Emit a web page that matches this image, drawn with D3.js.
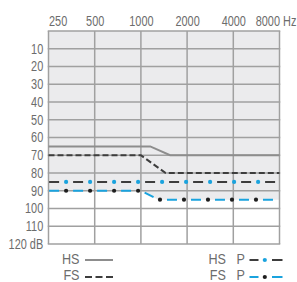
<!DOCTYPE html>
<html>
<head>
<meta charset="utf-8">
<script src="https://cdn.jsdelivr.net/npm/d3@7"></script>
<style>
  html, body { margin: 0; padding: 0; background: #fff; }
  svg { display: block; }
  text { font-family: "Liberation Sans", Arial, sans-serif; fill: #6c6c6c; font-size: 14px; }
</style>
</head>
<body>
<svg id="chart"></svg>
<script>
// Frequency ticks (Hz) and level ticks (dB)
const freqTicks = [250, 500, 1000, 2000, 4000, 8000];
const dbTicks = [10, 20, 30, 40, 50, 60, 70, 80, 90, 100, 110, 120];

// Series: [frequency, dB]
const hs = [[250, 65], [1150, 65], [1550, 70], [8000, 70]];
const fs = [[250, 70], [1000, 70], [1450, 80], [8000, 80]];
const hsP = [[250, 85], [8000, 85]];
const fsP = [[250, 90], [1000, 90], [1300, 95], [8000, 95]];

const W = 297, H = 282;
const margin = { top: 31, right: 17.5, bottom: 38, left: 48.5 };
const SX = 0.78; // horizontal squeeze to mimic the condensed face

const svg = d3.select("#chart").attr("width", W).attr("height", H);

const x = d3.scaleLog().domain([250, 8000]).range([margin.left, W - margin.right]);
const y = d3.scaleLinear().domain([0, 120]).range([margin.top, H - margin.bottom]);

const BLUE = "#1aa3de", DARK = "#3d3d3d", GRAY = "#8d8d8d", GRID = "#a0a0a0";

// Shaded region above FS P curve
svg.append("path")
  .datum(fsP)
  .attr("fill", "#ebebed")
  .attr("d", d3.area().x(d => x(d[0])).y0(y(0)).y1(d => y(d[1])));

// Grid
const grid = svg.append("g").attr("stroke", GRID).attr("stroke-width", 1.5);
grid.selectAll(".v").data(freqTicks).enter().append("line")
  .attr("x1", d => x(d)).attr("x2", d => x(d))
  .attr("y1", y(0)).attr("y2", y(120));
grid.selectAll(".h").data([0].concat(dbTicks)).enter().append("line")
  .attr("x1", x(250) - 0.75).attr("x2", x(8000) + 0.75)
  .attr("y1", d => y(d)).attr("y2", d => y(d));

// Axes
const xAxis = svg.append("g")
  .attr("transform", `translate(0,${y(0)})`)
  .call(d3.axisTop(x).tickValues(freqTicks).tickSize(0).tickPadding(5.5).tickFormat(d3.format("d")));
xAxis.select(".domain").remove();
xAxis.selectAll("text")
  .attr("fill", null)
  .attr("transform", `scale(${SX},1)`)
  .attr("text-anchor", (d, i) => i === 0 ? "start" : i === freqTicks.length - 1 ? "end" : "middle");
xAxis.attr("font-size", null).attr("font-family", null);

svg.append("text")
  .attr("transform", `translate(${x(8000) + 3.5},${y(0) - 5.5}) scale(${SX},1)`)
  .text("Hz");

const yAxis = svg.append("g")
  .attr("transform", `translate(${x(250)},0)`)
  .call(d3.axisLeft(y).tickValues(dbTicks).tickSize(0).tickPadding(5.3 / SX)
    .tickFormat(d => d === 120 ? "120 dB" : d));
yAxis.select(".domain").remove();
yAxis.attr("font-size", null).attr("font-family", null);
yAxis.selectAll("text")
  .attr("fill", null)
  .attr("transform", `scale(${SX},1)`);

// Lines
const line = d3.line().x(d => x(d[0])).y(d => y(d[1]));

svg.append("path").datum(hs)
  .attr("fill", "none").attr("stroke", GRAY).attr("stroke-width", 2)
  .attr("d", line);

svg.append("path").datum(fs)
  .attr("fill", "none").attr("stroke", DARK).attr("stroke-width", 2)
  .attr("stroke-dasharray", "6 3")
  .attr("d", line);

// dash + dot lines
function dotted(data, dashColor, dotColor) {
  const p = svg.append("path").datum(data)
    .attr("fill", "none").attr("stroke", dashColor).attr("stroke-width", 2)
    .attr("stroke-dasharray", "10 14").attr("stroke-dashoffset", -0.6)
    .attr("d", line);
  const node = p.node(), len = node.getTotalLength();
  const pts = [];
  for (let s = 17.6; s < len; s += 24) pts.push(node.getPointAtLength(s));
  svg.append("g").selectAll("circle").data(pts).enter().append("circle")
    .attr("cx", d => d.x).attr("cy", d => d.y).attr("r", 2.1).attr("fill", dotColor);
}
dotted(hsP, DARK, BLUE);
dotted(fsP, BLUE, "#1e1e1e");

// Legend
const lg = svg.append("g");
const rows = [
  { label: "HS", x: 79.5, y: 259, ly: 260, type: "solid" },
  { label: "FS", x: 79.5, y: 274.5, ly: 277, type: "dash" },
  { label: "HS P", x: 245, y: 259, ly: 260, type: "hsp" },
  { label: "FS P", x: 245, y: 274.5, ly: 277, type: "fsp" }
];
rows.forEach(r => {
  lg.append("text")
    .attr("transform", `translate(${r.x},${r.y}) scale(0.9,1)`)
    .attr("dy", "0.36em")
    .attr("text-anchor", "end").style("word-spacing", "8px").text(r.label);
  const x0 = r.x + 5.5;
  if (r.type === "solid" || r.type === "dash") {
    lg.append("line").attr("x1", x0).attr("x2", x0 + 28).attr("y1", r.ly).attr("y2", r.ly)
      .attr("stroke", r.type === "solid" ? GRAY : DARK).attr("stroke-width", 2)
      .attr("stroke-dasharray", r.type === "dash" ? "7 3.5" : null);
  } else {
    const dash = r.type === "hsp" ? DARK : BLUE;
    const dot = r.type === "hsp" ? BLUE : "#1e1e1e";
    lg.append("line").attr("x1", x0 - 1).attr("x2", x0 + 32).attr("y1", r.ly).attr("y2", r.ly)
      .attr("stroke", dash).attr("stroke-width", 2).attr("stroke-dasharray", "9 13.5 10.5");
    lg.append("circle").attr("cx", x0 + 14.3).attr("cy", r.ly).attr("r", 2.1).attr("fill", dot);
  }
});
</script>
</body>
</html>
